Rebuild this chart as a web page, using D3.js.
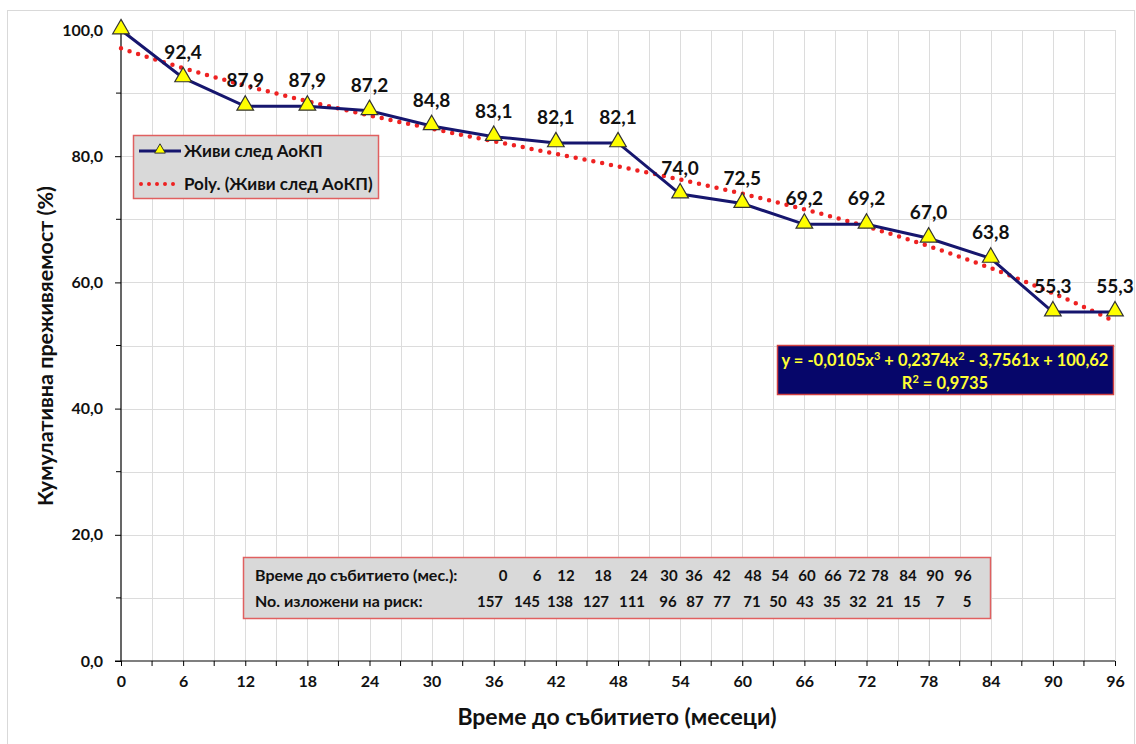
<!DOCTYPE html>
<html>
<head>
<meta charset="utf-8">
<script src="https://cdn.jsdelivr.net/npm/d3@7"></script>
<style>
  html, body { margin: 0; padding: 0; background: #fff; }
  svg { display: block; font-family: Lato, "Open Sans", sans-serif; }
</style>
</head>
<body>
<svg id="chart" width="1136" height="744"></svg>
<script>
// Survival after surgery: months and cumulative survival (%)
const months = [0, 6, 12, 18, 24, 30, 36, 42, 48, 54, 60, 66, 72, 78, 84, 90, 96];
const survival = [100.0, 92.4, 87.9, 87.9, 87.2, 84.8, 83.1, 82.1, 82.1, 74.0, 72.5, 69.2, 69.2, 67.0, 63.8, 55.3, 55.3];
const atRisk = [157, 145, 138, 127, 111, 96, 87, 77, 71, 50, 43, 35, 32, 21, 15, 7, 5];
// Cubic trendline coefficients (in point index 1..17): a3, a2, a1, a0
const trendCoef = [-0.0105, 0.2374, -3.7561, 100.62];
const rSquared = 0.9735;
const yTicks = [0, 20, 40, 60, 80, 100];
const xTicks = [0, 6, 12, 18, 24, 30, 36, 42, 48, 54, 60, 66, 72, 78, 84, 90, 96];

const seriesName = "Живи след АоКП";
const trendName = "Poly. (Живи след АоКП)";
const yTitle = "Кумулативна  преживяемост (%)";
const xTitle = "Време до събитието (месеци)";
const tableRow1Label = "Време до събитието (мес.):";
const tableRow2Label = "No. изложени на риск:";

// table column centres (the table is typeset with uneven spacing)
const row1Cols = [503, 537, 566, 603, 639, 669, 694, 722, 753, 780, 807, 833, 857, 880, 908, 935, 963];
const row2Cols = [490, 527, 560, 596, 632, 668, 695, 722, 752, 778, 805, 832, 858, 885, 912, 940, 967];

const svg = d3.select("#chart");
const fmt = v => d3.format(".1f")(v).replace(".", ",");

const x = d3.scaleLinear().domain([0, 96]).range([121, 1115]);
const y = d3.scaleLinear().domain([0, 100]).range([661, 30]);

// outer chart frame
svg.append("rect").attr("x", 7.5).attr("y", 10.5).attr("width", 1127).attr("height", 740)
  .attr("fill", "#fff").attr("stroke", "#d9d9d9");

// gridlines: every 10 % and every 3 months
const grid = svg.append("g").attr("stroke", "#dcdcdc").attr("stroke-width", 1);
grid.selectAll(".h").data(d3.range(10, 101, 10)).join("line")
  .attr("x1", x(0)).attr("x2", x(96))
  .attr("y1", d => Math.round(y(d)) + 0.5).attr("y2", d => Math.round(y(d)) + 0.5);
grid.selectAll(".v").data(d3.range(3, 97, 3)).join("line")
  .attr("y1", y(100)).attr("y2", y(0))
  .attr("x1", d => Math.round(x(d)) + 0.5).attr("x2", d => Math.round(x(d)) + 0.5);

// axes
const yAxis = d3.axisLeft(y).tickValues(yTicks).tickSize(6).tickPadding(12).tickFormat(fmt);
const gy = svg.append("g").attr("transform", `translate(${x(0)},0)`).call(yAxis);
gy.selectAll(".minor").data(d3.range(10, 100, 20)).join("line")
  .attr("x1", -5).attr("x2", 0).attr("y1", d => y(d)).attr("y2", d => y(d)).attr("stroke", "#000");

const xAxis = d3.axisBottom(x).tickValues(xTicks).tickSize(5).tickPadding(10).tickFormat(d3.format("d"));
const gx = svg.append("g").attr("transform", `translate(0,${y(0)})`).call(xAxis);
gx.selectAll(".minor").data(d3.range(3, 96, 6)).join("line")
  .attr("x1", d => x(d)).attr("x2", d => x(d)).attr("y1", 0).attr("y2", 5).attr("stroke", "#000");

[gx, gy].forEach(g => {
  g.select(".domain").attr("stroke", "#000").attr("stroke-width", 1.2);
  g.selectAll(".tick line").attr("stroke", "#000");
  g.selectAll("text").attr("font-family", "Lato, sans-serif").attr("font-weight", "bold")
    .attr("font-size", 16).attr("fill", "#111");
});
gy.select(".domain").attr("d", `M0,${y(100)}V${y(0)}`);
gx.select(".domain").attr("d", `M${x(0) - 6},0H${x(96)}`);

// axis titles
svg.append("text").attr("x", 617).attr("y", 725).attr("text-anchor", "middle")
  .attr("font-weight", "bold").attr("font-size", 23).attr("fill", "#111").text(xTitle);
svg.append("text").attr("transform", "translate(53,346) rotate(-90)").attr("text-anchor", "middle")
  .attr("font-weight", "bold").attr("font-size", 21.5).attr("fill", "#111").text(yTitle);

// polynomial trendline (x is the point index: 1 for month 0, 17 for month 96)
const poly = t => ((trendCoef[0] * t + trendCoef[1]) * t + trendCoef[2]) * t + trendCoef[3];
const trendPts = d3.range(0, 96.01, 0.5).map(m => [m, poly(m / 6 + 1)]);
svg.append("path").datum(trendPts)
  .attr("d", d3.line().x(d => x(d[0])).y(d => y(d[1])))
  .attr("fill", "none").attr("stroke", "#ee2222").attr("stroke-width", 4.5)
  .attr("stroke-linecap", "round").attr("stroke-dasharray", "0 9");

// survival line
const data = months.map((m, i) => ({ m, v: survival[i] }));
svg.append("path").datum(data)
  .attr("d", d3.line().x(d => x(d.m)).y(d => y(d.v)))
  .attr("fill", "none").attr("stroke", "#16166e").attr("stroke-width", 3);

const tri = d3.symbol().type(d3.symbolTriangle).size(120);
svg.selectAll(".mk").data(data).join("path")
  .attr("transform", d => `translate(${x(d.m)},${y(d.v) - 1})`)
  .attr("d", tri).attr("fill", "#ffff00").attr("stroke", "#333").attr("stroke-width", 1.2);

// data labels (the first point has none)
svg.selectAll(".lbl").data(data.slice(1)).join("text")
  .attr("x", d => x(d.m)).attr("y", d => y(d.v) - 19)
  .attr("text-anchor", "middle").attr("font-weight", "bold").attr("font-size", 19)
  .attr("fill", "#111").text(d => fmt(d.v));

// legend
const lg = svg.append("g");
lg.append("rect").attr("x", 133.5).attr("y", 135.5).attr("width", 245).attr("height", 63)
  .attr("fill", "#d9d9d9").attr("stroke", "#e06060").attr("stroke-width", 1.5);
lg.append("line").attr("x1", 139).attr("x2", 181).attr("y1", 151).attr("y2", 151)
  .attr("stroke", "#16166e").attr("stroke-width", 3);
lg.append("path").attr("transform", "translate(160,150)").attr("d", d3.symbol().type(d3.symbolTriangle).size(50))
  .attr("fill", "#ffff00").attr("stroke", "#333").attr("stroke-width", 1);
lg.append("line").attr("x1", 141).attr("x2", 181).attr("y1", 184).attr("y2", 184)
  .attr("stroke", "#ee2222").attr("stroke-width", 4).attr("stroke-linecap", "round").attr("stroke-dasharray", "0 8");
lg.append("text").attr("x", 184).attr("y", 157).attr("font-weight", "bold").attr("font-size", 17)
  .attr("fill", "#111").text(seriesName);
lg.append("text").attr("x", 184).attr("y", 190).attr("font-weight", "bold").attr("font-size", 17)
  .attr("fill", "#111").text(trendName);

// trendline equation box
const eq = svg.append("g");
eq.append("rect").attr("x", 777.5).attr("y", 345.5).attr("width", 336).attr("height", 49)
  .attr("fill", "#06066a").attr("stroke", "#d04040").attr("stroke-width", 1.5);
const eqText = eq.append("text").attr("x", 945).attr("y", 366).attr("text-anchor", "middle")
  .attr("font-weight", "bold").attr("font-size", 16.5).attr("fill", "#ffff33");
const c = trendCoef.map(v => d3.format(".4~f")(Math.abs(v)).replace(".", ","));
eqText.append("tspan").text(`y = -${c[0]}x`);
eqText.append("tspan").attr("dy", -6).attr("font-size", 11).text("3");
eqText.append("tspan").attr("dy", 6).text(` + ${c[1]}x`);
eqText.append("tspan").attr("dy", -6).attr("font-size", 11).text("2");
eqText.append("tspan").attr("dy", 6).text(` - ${c[2]}x + ${c[3]}`);
const r2 = eq.append("text").attr("x", 945).attr("y", 389).attr("text-anchor", "middle")
  .attr("font-weight", "bold").attr("font-size", 16.5).attr("fill", "#ffff33");
r2.append("tspan").text("R");
r2.append("tspan").attr("dy", -6).attr("font-size", 11).text("2");
r2.append("tspan").attr("dy", 6).text(" = " + String(rSquared).replace(".", ","));

// number-at-risk table
const tb = svg.append("g");
tb.append("rect").attr("x", 243.5).attr("y", 557.5).attr("width", 747).attr("height", 61)
  .attr("fill", "#d9d9d9").attr("stroke", "#e06060").attr("stroke-width", 1.5);
tb.append("text").attr("x", 255).attr("y", 581).attr("font-weight", "bold").attr("font-size", 16)
  .attr("fill", "#111").text(tableRow1Label);
tb.append("text").attr("x", 255).attr("y", 607).attr("font-weight", "bold").attr("font-size", 16)
  .attr("fill", "#111").text(tableRow2Label);
tb.selectAll(".r1").data(months).join("text")
  .attr("x", (d, i) => row1Cols[i]).attr("y", 581).attr("text-anchor", "middle")
  .attr("font-weight", "bold").attr("font-size", 15).attr("fill", "#111").text(d => d);
tb.selectAll(".r2").data(atRisk).join("text")
  .attr("x", (d, i) => row2Cols[i]).attr("y", 607).attr("text-anchor", "middle")
  .attr("font-weight", "bold").attr("font-size", 15).attr("fill", "#111").text(d => d);
</script>
</body>
</html>
